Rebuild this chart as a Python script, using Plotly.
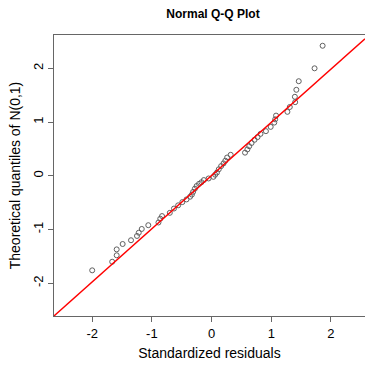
import plotly.graph_objects as go

# Standardized residuals (x) vs theoretical quantiles of N(0,1) (y)
std_resid = [-2.00, -1.665, -1.59, -1.59, -1.49, -1.35, -1.25, -1.22, -1.17, -1.06,
             -0.89, -0.86, -0.83, -0.70, -0.63, -0.56, -0.49, -0.42, -0.36, -0.33,
             -0.31, -0.28, -0.25, -0.21, -0.17, -0.13, -0.05, 0.03, 0.06, 0.09,
             0.12, 0.16, 0.20, 0.23, 0.26, 0.32, 0.56, 0.60, 0.63, 0.67,
             0.72, 0.77, 0.82, 0.91, 0.99, 1.05, 1.065, 1.08, 1.27, 1.31,
             1.40, 1.395, 1.42, 1.46, 1.725, 1.86]
theo_q = [-1.76, -1.60, -1.48, -1.37, -1.27, -1.20, -1.12, -1.06, -0.99, -0.92,
          -0.87, -0.80, -0.75, -0.69, -0.61, -0.55, -0.49, -0.44, -0.39, -0.35,
          -0.30, -0.24, -0.19, -0.15, -0.12, -0.08, -0.05, -0.02, 0.02, 0.06,
          0.12, 0.18, 0.23, 0.28, 0.34, 0.39, 0.43, 0.49, 0.55, 0.61,
          0.67, 0.72, 0.78, 0.83, 0.91, 0.99, 1.05, 1.12, 1.19, 1.28,
          1.37, 1.47, 1.60, 1.76, 2.00, 2.42]

x_ticks = [-2, -1, 0, 1, 2]
y_ticks = [-2, -1, 0, 1, 2]

line_intercept = 0.005
line_slope = 0.99

x_range = [-2.64, 2.57]
y_range = [-2.61, 2.62]

fig = go.Figure()
fig.add_trace(go.Scatter(
    x=std_resid, y=theo_q, mode="markers",
    marker=dict(symbol="circle-open", size=5, color="#606060", line=dict(width=1, color="#606060")),
    showlegend=False, hoverinfo="skip"))
fig.add_trace(go.Scatter(
    x=x_range, y=[line_intercept + line_slope * v for v in x_range], mode="lines",
    line=dict(color="#ff0000", width=1.5), showlegend=False, hoverinfo="skip"))

font_family = "Liberation Sans, Arial, sans-serif"
fig.update_layout(
    width=365, height=365,
    margin=dict(l=54, r=0, t=35, b=49),
    paper_bgcolor="white", plot_bgcolor="white",
    font=dict(family=font_family, size=13, color="#000000"),
    title=dict(text="<b>Normal Q-Q Plot</b>", x=213/365, xref="container", xanchor="center",
               y=1 - 14/365, yref="container", yanchor="middle",
               font=dict(size=12, family=font_family, color="#000000")),
    xaxis=dict(range=x_range, tickvals=x_ticks, ticktext=[str(v) for v in x_ticks],
               showgrid=False, zeroline=False, showline=True, mirror=True,
               linecolor="#666666", linewidth=1, ticks="outside", ticklen=5,
               tickcolor="#666666", tickwidth=1, tickfont=dict(size=13),
               title=dict(text="Standardized residuals", font=dict(size=14), standoff=8)),
    yaxis=dict(range=y_range, tickvals=y_ticks, ticktext=[str(v) for v in y_ticks],
               showgrid=False, zeroline=False, showline=True, mirror=False,
               linecolor="#666666", linewidth=1, ticks="outside", ticklen=5,
               tickcolor="#666666", tickwidth=1, tickangle=-90, tickfont=dict(size=13),
               title=dict(text="Theoretical quantiles of N(0,1)", font=dict(size=14), standoff=6)),
)

fig.write_html("out.html")
